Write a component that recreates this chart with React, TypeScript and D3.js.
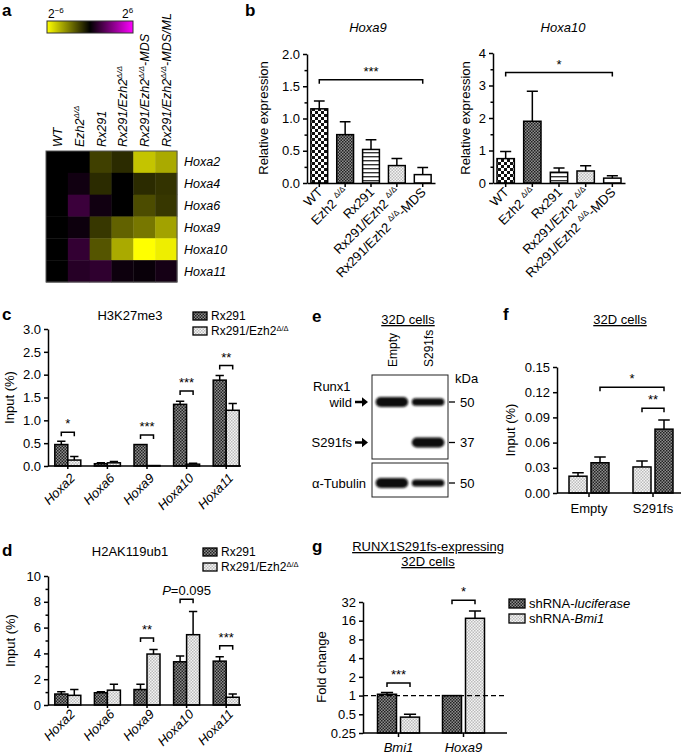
import { useEffect, useRef } from "react";
import * as d3 from "d3";

const FONT = "Liberation Sans, Arial, Helvetica, sans-serif";

// a: heatmap of log2 relative expression
const heatGenes = ["Hoxa2", "Hoxa4", "Hoxa6", "Hoxa9", "Hoxa10", "Hoxa11"];
const heatSamples = ["WT", "Ezh2Δ/Δ", "Rx291", "Rx291/Ezh2Δ/Δ", "Rx291/Ezh2Δ/Δ-MDS", "Rx291/Ezh2Δ/Δ-MDS/ML"];
const heatValues = [
  [0, 0, -1.5, -1, -4.6, -4],
  [0, 0.4, -1, 0, -1, -1.2],
  [0, 1.4, 0.4, 0, -1.8, -1.3],
  [0, 0.3, -1.3, -2.3, -2.8, -3.8],
  [0, 1.2, -2, -4, -6, -5.6],
  [0, 0.9, 1.1, 0.3, 0.2, 0.5],
];

// b: relative expression
const bSamples = ["WT", "Ezh2 Δ/Δ", "Rx291", "Rx291/Ezh2 Δ/Δ", "Rx291/Ezh2 Δ/Δ-MDS"];
const bFills = ["url(#pCheck)", "url(#pDark)", "url(#pStripe)", "url(#pLight)", "#fff"];
const hoxa9Mean = [1.15, 0.75, 0.52, 0.27, 0.13];
const hoxa9Sem = [0.12, 0.2, 0.15, 0.11, 0.11];
const hoxa10Mean = [0.75, 1.9, 0.33, 0.37, 0.15];
const hoxa10Sem = [0.22, 0.92, 0.13, 0.16, 0.07];

// c, d: ChIP
const chipGenes = ["Hoxa2", "Hoxa6", "Hoxa9", "Hoxa10", "Hoxa11"];
const k27Rx = [0.47, 0.05, 0.47, 1.35, 1.88];
const k27RxErr = [0.07, 0.02, 0.005, 0.07, 0.1];
const k27Dko = [0.13, 0.07, 0.01, 0.04, 1.22];
const k27DkoErr = [0.08, 0.03, 0.005, 0.02, 0.15];
const k27Sig = [
  { gene: "Hoxa2", y: 0.74, label: "*" },
  { gene: "Hoxa9", y: 0.68, label: "***" },
  { gene: "Hoxa10", y: 1.64, label: "***" },
  { gene: "Hoxa11", y: 2.2, label: "**" },
];
const ubRx = [0.85, 0.95, 1.2, 3.35, 3.4];
const ubRxErr = [0.18, 0.08, 0.4, 0.45, 0.35];
const ubDko = [0.75, 1.15, 3.95, 5.45, 0.6];
const ubDkoErr = [0.45, 0.45, 0.35, 1.8, 0.25];
const ubSig = [
  { gene: "Hoxa9", y: 5.2, label: "**" },
  { gene: "Hoxa10", y: 8.2, label: "P=0.095" },
  { gene: "Hoxa11", y: 4.6, label: "***" },
];
const chipLegend = ["Rx291", "Rx291/Ezh2Δ/Δ"];

// e: western blot
const blotLanes = ["Empty", "S291fs"];
const blotRows = ["wild", "S291fs", "α-Tubulin"];
const blotIntensity = [
  [1, 0.65],
  [0, 1],
  [1, 0.6],
];
const blotMarkers = ["50", "37", "50"];

// f: ChIP in 32D cells
const fGroups = ["Empty", "S291fs"];
const fLight = [0.02, 0.031];
const fLightErr = [0.004, 0.007];
const fDark = [0.036, 0.076];
const fDarkErr = [0.007, 0.011];

// g: fold change
const gGenes = ["Bmi1", "Hoxa9"];
const gLuc = [1.05, 1.0];
const gLucErr = [0.07, 0];
const gBmi = [0.45, 17.5];
const gBmiErr = [0.05, 5.5];
const gSig = [
  { gene: "Bmi1", y: 1.6, label: "***" },
  { gene: "Hoxa9", y: 34, label: "*" },
];

function sup(s: string, size = 8, shift = 5) {
  const i = s.indexOf("Δ/Δ");
  if (i < 0) return s;
  const rest = s.slice(i + 3);
  const parts = [
    <tspan key="a">{s.slice(0, i)}</tspan>,
    <tspan key="b" dy={-shift} fontSize={size}>Δ/Δ</tspan>,
  ];
  if (rest) parts.push(<tspan key="c" dy={shift}>{rest}</tspan>);
  return parts;
}

function Axis({ scale, side, at, ticks, fmt, size = 4, domain }: any) {
  const ref = useRef<SVGGElement>(null);
  useEffect(() => {
    const ax = (side === "left" ? d3.axisLeft(scale) : d3.axisBottom(scale))
      .tickValues(ticks)
      .tickFormat(fmt ?? (() => ""))
      .tickSize(size)
      .tickSizeOuter(0)
      .tickPadding(3);
    const g = d3.select(ref.current!).call(ax as any);
    g.attr("font-family", FONT).attr("font-size", 13);
    g.selectAll("path,line").attr("stroke", "#000").attr("stroke-width", 1.5);
    g.selectAll("text").attr("fill", "#000");
    if (!fmt) g.selectAll("text").remove();
    if (domain === false) g.select(".domain").remove();
    else if (domain) g.select(".domain").attr("d", side === "left" ? `M0,${domain[0]}V${domain[1]}` : `M${domain[0]},0H${domain[1]}`);
  });
  return <g ref={ref} transform={side === "left" ? `translate(${at},0)` : `translate(0,${at})`} />;
}

function Bar({ x, w, y0, y1, yErr, fill }: any) {
  const cx = x + w / 2;
  const cap = w * 0.32;
  return (
    <g>
      {yErr < y1 - 0.5 && (
        <path d={`M${cx},${y1}V${yErr}M${cx - cap},${yErr}H${cx + cap}`} stroke="#000" strokeWidth={1.5} fill="none" />
      )}
      <rect x={x} y={y1} width={w} height={Math.max(0, y0 - y1)} fill={fill} stroke="#000" strokeWidth={1.5} />
    </g>
  );
}

function Bracket({ x1, x2, y, label, tick = 4 }: any) {
  const isP = label.startsWith("P=");
  return (
    <g>
      <path d={`M${x1},${y + tick}V${y}H${x2}V${y + tick}`} fill="none" stroke="#000" strokeWidth={1.5} />
      <text x={(x1 + x2) / 2} y={y - 4} textAnchor="middle" fontSize={13}>
        {isP ? [<tspan key="p" fontStyle="italic">P</tspan>, <tspan key="r">{label.slice(1)}</tspan>] : label}
      </text>
    </g>
  );
}

export default function App() {
  // a
  const hx = d3.scaleBand().domain(heatSamples).range([46, 177]);
  const hy = d3.scaleBand().domain(heatGenes).range([151, 282]);
  const heatColor = d3.scaleLinear<string>().domain([-6, 0, 6]).range(["#ffff00", "#000000", "#ff00ff"]);
  const cbStops = d3.range(-6, 6.01, 1);

  // b
  const b9x = d3.scaleBand().domain(bSamples).range([307, 435]).paddingInner(0.35).paddingOuter(0.15);
  const b9y = d3.scaleLinear().domain([0, 2]).range([183, 54]);
  const b10x = d3.scaleBand().domain(bSamples).range([493, 625]).paddingInner(0.35).paddingOuter(0.15);
  const b10y = d3.scaleLinear().domain([0, 4]).range([183, 53]);
  const bPanels = [
    { title: "Hoxa9", x: b9x, y: b9y, mean: hoxa9Mean, sem: hoxa9Sem, ticks: [0, 0.5, 1, 1.5, 2], minor: [0.25, 0.75, 1.25, 1.75], fmt: d3.format(".1f"), sig: { y: 1.6, label: "***" }, ylab: 268, tx: 368, ty: 32 },
    { title: "Hoxa10", x: b10x, y: b10y, mean: hoxa10Mean, sem: hoxa10Sem, ticks: [0, 1, 2, 3, 4], minor: [0.5, 1.5, 2.5, 3.5], fmt: d3.format("d"), sig: { y: 3.4, label: "*" }, ylab: 470, tx: 563, ty: 32 },
  ];

  // c, d
  const cdX = d3.scaleBand().domain(chipGenes).range([48, 246]);
  const cdW = 13;
  const cY = d3.scaleLinear().domain([0, 3]).range([466, 329]);
  const dY = d3.scaleLinear().domain([0, 10]).range([705, 576]);
  const cdc = (g: string) => cdX(g)! + cdX.bandwidth() / 2;
  const chipPanels = [
    { letter: "c", title: "H3K27me3", ty: 320, y: cY, rx: k27Rx, rxe: k27RxErr, dk: k27Dko, dke: k27DkoErr, sig: k27Sig, ticks: d3.range(0, 3.01, 0.5), minor: [], fmt: d3.format(".1f"), legX: 193, legY: 312, labY: 479, ylabX: 14 },
    { letter: "d", title: "H2AK119ub1", ty: 556, y: dY, rx: ubRx, rxe: ubRxErr, dk: ubDko, dke: ubDkoErr, sig: ubSig, ticks: d3.range(0, 10.01, 2), minor: d3.range(1, 10, 2), fmt: d3.format("d"), legX: 203, legY: 548, labY: 715, ylabX: 15 },
  ];

  // e
  const eX = d3.scaleBand().domain(blotLanes).range([372, 448]).paddingInner(0.1).paddingOuter(0.1);
  const eY = d3.scalePoint().domain(blotRows).range([402, 483]);

  // f
  const fX = d3.scaleBand().domain(fGroups).range([557, 685]);
  const fY = d3.scaleLinear().domain([0, 0.15]).range([493, 367]);
  const fc = (g: string) => fX(g)! + fX.bandwidth() / 2;
  const fW = 18;

  // g
  const gX = d3.scaleBand().domain(gGenes).range([366, 496]);
  const gY = d3.scaleLog().base(2).domain([0.25, 32]).range([733, 602]);
  const gc = (g: string) => gX(g)! + gX.bandwidth() / 2;
  const gW = 19;

  return (
    <svg width={685} height={755} style={{ position: "absolute", left: 0, top: 0, background: "#fff" }} fontFamily={FONT} fontSize={13}>
      <defs>
        <pattern id="pDark" width={3} height={3} patternUnits="userSpaceOnUse">
          <rect width={3} height={3} fill="#8e8e8e" />
          <rect width={1.5} height={1.5} fill="#222" />
          <rect x={1.5} y={1.5} width={1.5} height={1.5} fill="#222" />
        </pattern>
        <pattern id="pLight" width={3} height={3} patternUnits="userSpaceOnUse">
          <rect width={3} height={3} fill="#f4f4f4" />
          <rect width={1.5} height={1.5} fill="#bcbcbc" />
          <rect x={1.5} y={1.5} width={1.5} height={1.5} fill="#bcbcbc" />
        </pattern>
        <pattern id="pCheck" width={6} height={6} patternUnits="userSpaceOnUse">
          <rect width={6} height={6} fill="#fff" />
          <rect width={3} height={3} fill="#111" />
          <rect x={3} y={3} width={3} height={3} fill="#111" />
        </pattern>
        <pattern id="pStripe" width={4} height={4} patternUnits="userSpaceOnUse">
          <rect width={4} height={4} fill="#fff" />
          <rect width={4} height={1.4} fill="#333" />
        </pattern>
        <linearGradient id="cbar" x1="0" x2="1" y1="0" y2="0">
          {cbStops.map((v, i) => (
            <stop key={i} offset={`${(i / (cbStops.length - 1)) * 100}%`} stopColor={heatColor(v)} />
          ))}
        </linearGradient>
        <filter id="blur" x="-20%" y="-100%" width="140%" height="300%">
          <feGaussianBlur stdDeviation={1.3} />
        </filter>
      </defs>

      {/* panel a */}
      <text x={2} y={16} fontSize={17} fontWeight="bold">a</text>
      <rect x={47} y={21} width={86} height={12} fill="url(#cbar)" stroke="#333" strokeWidth={1} />
      <text x={48} y={18} fontSize={12}>2<tspan dy={-5} fontSize={8}>−6</tspan></text>
      <text x={122} y={18} fontSize={12}>2<tspan dy={-5} fontSize={8}>6</tspan></text>
      {heatSamples.map((s) => (
        <text key={s} transform={`translate(${hx(s)! + hx.bandwidth() / 2 + 5},147) rotate(-90)`} fontStyle="italic" fontSize={12.5}>
          {sup(s)}
        </text>
      ))}
      {heatGenes.map((g, i) =>
        heatSamples.map((s, j) => (
          <rect key={g + s} x={hx(s)} y={hy(g)} width={hx.bandwidth() + 0.4} height={hy.bandwidth() + 0.4} fill={heatColor(heatValues[i][j])} />
        ))
      )}
      <rect x={46} y={151} width={131} height={131} fill="none" stroke="#555" strokeWidth={1} />
      {heatGenes.map((g) => (
        <text key={g} x={184} y={hy(g)! + hy.bandwidth() / 2 + 4.5} fontStyle="italic" fontSize={12.5}>{g}</text>
      ))}

      {/* panel b */}
      <text x={245} y={16} fontSize={17} fontWeight="bold">b</text>
      {bPanels.map((p) => {
        const bw = p.x.bandwidth();
        const x0 = p.x(bSamples[0])! + bw / 2;
        const x1 = p.x(bSamples[4])! + bw / 2;
        return (
          <g key={p.title}>
            <text x={p.tx} y={p.ty} textAnchor="middle" fontStyle="italic">{p.title}</text>
            <text transform={`translate(${p.ylab},${118}) rotate(-90)`} textAnchor="middle">Relative expression</text>
            {bSamples.map((s, i) => (
              <Bar key={s} x={p.x(s)} w={bw} y0={p.y(0)} y1={p.y(p.mean[i])} yErr={p.y(p.mean[i] + p.sem[i])} fill={bFills[i]} />
            ))}
            <Bracket x1={x0} x2={x1} y={p.y(p.sig.y)} label={p.sig.label} />
            <Axis scale={p.y} side="left" at={p.x.range()[0]} ticks={p.ticks} fmt={p.fmt} />
            <Axis scale={p.y} side="left" at={p.x.range()[0]} ticks={p.minor} size={2.5} domain={false} />
            <Axis scale={p.x} side="bottom" at={p.y(0)} ticks={bSamples} size={4} />
            {bSamples.map((s) => (
              <text key={s} transform={`translate(${p.x(s)! + bw / 2 + 4},${193}) rotate(-45)`} textAnchor="end">
                {sup(s, 8, 5)}
              </text>
            ))}
          </g>
        );
      })}

      {/* panels c, d */}
      {chipPanels.map((p) => (
        <g key={p.letter}>
          <text x={2} y={p.ty} fontSize={17} fontWeight="bold">{p.letter}</text>
          <text x={130} y={p.ty} textAnchor="middle">{p.title}</text>
          {chipLegend.map((l, i) => (
            <g key={l}>
              <rect x={p.legX} y={p.legY + i * 15} width={14} height={8} fill={i === 0 ? "url(#pDark)" : "url(#pLight)"} stroke="#000" strokeWidth={1.3} />
              <text x={p.legX + 18} y={p.legY + i * 15 + 8} fontSize={12}>{sup(l, 7.5, 4)}</text>
            </g>
          ))}
          <text transform={`translate(${p.ylabX},${(p.y.range()[0] + p.y.range()[1]) / 2}) rotate(-90)`} textAnchor="middle">Input (%)</text>
          {chipGenes.map((g, i) => (
            <g key={g}>
              <Bar x={cdc(g) - cdW} w={cdW} y0={p.y(0)} y1={p.y(p.rx[i])} yErr={p.y(p.rx[i] + p.rxe[i])} fill="url(#pDark)" />
              <Bar x={cdc(g)} w={cdW} y0={p.y(0)} y1={p.y(p.dk[i])} yErr={p.y(p.dk[i] + p.dke[i])} fill="url(#pLight)" />
            </g>
          ))}
          {p.sig.map((s) => (
            <Bracket key={s.gene} x1={cdc(s.gene) - cdW / 2} x2={cdc(s.gene) + cdW / 2} y={p.y(s.y)} label={s.label} />
          ))}
          <Axis scale={p.y} side="left" at={48} ticks={p.ticks} fmt={p.fmt} />
          <Axis scale={p.y} side="left" at={48} ticks={p.minor} size={2.5} domain={false} />
          <Axis scale={cdX} side="bottom" at={p.y(0)} ticks={chipGenes} size={3} domain={[48, 241]} />
          {chipGenes.map((g) => (
            <text key={g} transform={`translate(${cdc(g) + 8},${p.labY}) rotate(-45)`} textAnchor="end" fontStyle="italic">{g}</text>
          ))}
        </g>
      ))}

      {/* panel e */}
      <text x={312} y={322} fontSize={17} fontWeight="bold">e</text>
      <text x={408} y={324} textAnchor="middle" textDecoration="underline">32D cells</text>
      {blotLanes.map((l) => (
        <text key={l} transform={`translate(${eX(l)! + eX.bandwidth() / 2 + 5},367) rotate(-90)`} fontSize={12}>{l}</text>
      ))}
      <text x={455} y={383}>kDa</text>
      <rect x={372} y={375} width={76} height={84} fill="#fff" stroke="#222" strokeWidth={1} />
      <rect x={372} y={463} width={76} height={34} fill="#fff" stroke="#222" strokeWidth={1} />
      {blotRows.map((r, i) =>
        blotLanes.map((l, j) => {
          const v = blotIntensity[i][j];
          if (!v) return null;
          const h = 3 + 7 * v;
          return (
            <rect key={r + l} x={eX(l)!} y={eY(r)! - h / 2} width={eX.bandwidth()} height={h} rx={h / 2} fill="#0a0a0a" filter="url(#blur)" />
          );
        })
      )}
      {blotRows.map((r, i) => (
        <g key={r}>
          <line x1={449} x2={455} y1={eY(r)} y2={eY(r)} stroke="#000" strokeWidth={1.3} />
          <text x={460} y={eY(r)! + 4.5}>{blotMarkers[i]}</text>
          {i < 2 ? (
            <g>
              <text x={352} y={eY(r)! + 4.5} textAnchor="end">{r}</text>
              <path d={`M355,${eY(r)! - 1.2}h7v-3.5l6,4.7l-6,4.7v-3.5h-7z`} fill="#000" />
            </g>
          ) : (
            <text x={366} y={eY(r)! + 4.5} textAnchor="end">{r}</text>
          )}
        </g>
      ))}
      <text x={313} y={391}>Runx1</text>

      {/* panel f */}
      <text x={503} y={320} fontSize={17} fontWeight="bold">f</text>
      <text x={620} y={324} textAnchor="middle" textDecoration="underline">32D cells</text>
      <text transform={`translate(515,430) rotate(-90)`} textAnchor="middle">Input (%)</text>
      {fGroups.map((g, i) => (
        <g key={g}>
          <Bar x={fc(g) - fW - 2} w={fW} y0={fY(0)} y1={fY(fLight[i])} yErr={fY(fLight[i] + fLightErr[i])} fill="url(#pLight)" />
          <Bar x={fc(g) + 2} w={fW} y0={fY(0)} y1={fY(fDark[i])} yErr={fY(fDark[i] + fDarkErr[i])} fill="url(#pDark)" />
          <text x={fc(g)} y={513} textAnchor="middle">{g}</text>
        </g>
      ))}
      <Bracket x1={fc("Empty") + 2 + fW / 2} x2={fc("S291fs") + 2 + fW / 2} y={fY(0.126)} label="*" />
      <Bracket x1={fc("S291fs") - 2 - fW / 2} x2={fc("S291fs") + 2 + fW / 2} y={fY(0.101)} label="**" />
      <Axis scale={fY} side="left" at={557} ticks={d3.range(0, 0.1501, 0.03)} fmt={d3.format(".2f")} />
      <Axis scale={fX} side="bottom" at={fY(0)} ticks={fGroups} size={4} domain={[557, 681]} />

      {/* panel g */}
      <text x={312} y={552} fontSize={17} fontWeight="bold">g</text>
      <text x={428} y={551} textAnchor="middle" textDecoration="underline">RUNX1S291fs-expressing</text>
      <text x={428} y={566} textAnchor="middle" textDecoration="underline">32D cells</text>
      <text transform={`translate(326,667) rotate(-90)`} textAnchor="middle">Fold change</text>
      {gGenes.map((g, i) => (
        <g key={g}>
          <Bar x={gc(g) - gW - 2} w={gW} y0={gY(0.25)} y1={gY(gLuc[i])} yErr={gY(gLuc[i] + gLucErr[i])} fill="url(#pDark)" />
          <Bar x={gc(g) + 2} w={gW} y0={gY(0.25)} y1={gY(gBmi[i])} yErr={gY(gBmi[i] + gBmiErr[i])} fill="url(#pLight)" />
          <text x={gc(g)} y={752} textAnchor="middle" fontStyle="italic">{g}</text>
        </g>
      ))}
      <line x1={363} x2={507} y1={gY(1)} y2={gY(1)} stroke="#000" strokeWidth={1.3} strokeDasharray="5,3" />
      {gSig.map((s) => (
        <Bracket key={s.gene} x1={gc(s.gene) - 2 - gW / 2} x2={gc(s.gene) + 2 + gW / 2} y={gY(s.y)} label={s.label} />
      ))}
      <Axis scale={gY} side="left" at={363} ticks={[0.25, 0.5, 1, 2, 4, 8, 16, 32]} fmt={(v: number) => String(v)} />
      <Axis scale={gX} side="bottom" at={gY(0.25)} ticks={gGenes} size={4} domain={[363, 507]} />
      {["shRNA-|luciferase", "shRNA-|Bmi1"].map((l, i) => {
        const [a, b] = l.split("|");
        return (
          <g key={l}>
            <rect x={509} y={599 + i * 15} width={16} height={9} fill={i === 0 ? "url(#pDark)" : "url(#pLight)"} stroke="#000" strokeWidth={1.3} />
            <text x={529} y={608 + i * 15}>{a}<tspan fontStyle="italic">{b}</tspan></text>
          </g>
        );
      })}
    </svg>
  );
}
